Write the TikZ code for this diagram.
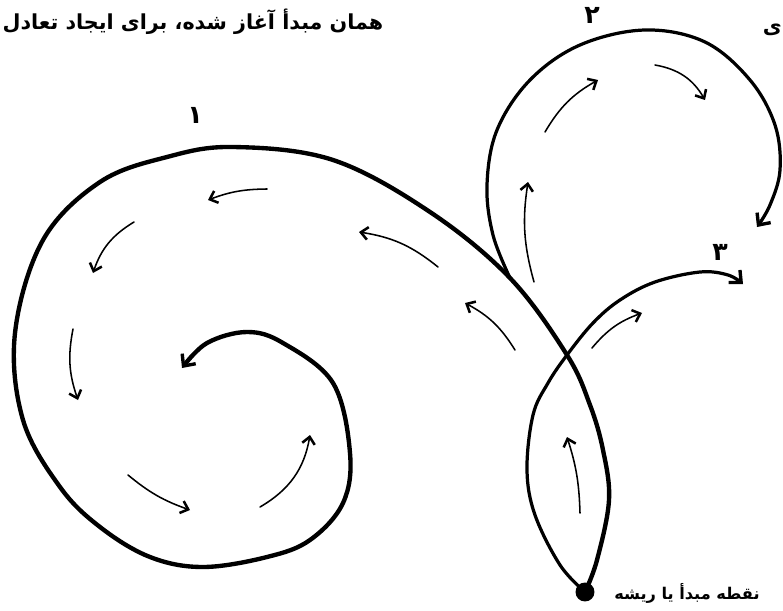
\documentclass[tikz,border=0pt]{standalone}
\usepackage{fontspec}
\newfontfamily\farsifont[Script=Arabic]{DejaVu Sans}
\TeXXeTstate=1
\usetikzlibrary{arrows.meta}

\begin{document}
\begin{tikzpicture}[x=0.025cm, y=-0.025cm,
    mainline/.style={line width=3.1pt, line cap=round},
    sideline/.style={line width=2.3pt, line cap=round},
    bigtip/.style={-{Straight Barb[length=6.5pt, width=12pt, line width=2.4pt]}},
    hint/.style={line width=1.1pt, line cap=round, -{Straight Barb[length=5pt, width=9pt, line width=1.8pt]}},
    fatext/.style={font=\farsifont\bfseries\fontsize{14.7}{17}\selectfont, inner sep=0pt},
    digit/.style={font=\farsifont\bfseries\fontsize{18}{20}\selectfont, inner sep=0pt}]
  \useasboundingbox (0,0) rectangle (783,611);

  % Root
  \node[circle, fill, inner sep=0pt, minimum size=13.5pt] (root) at (585,592) {};
  \coordinate (fork) at (510,278);

  % Curve 1 (spiral)
  \draw[mainline, bigtip] plot[smooth, tension=0.6] coordinates {(root) (597,560) (609,500) (603,450) (590,405) (567,355) (fork) (430,212) (333,160) (233,147) (167,157) (100,182) (43,240) (15,333) (23,420) (60,487) (100,527) (150,557) (203,567) (267,557) (310,540) (343,503) (350,453) (333,383) (283,343) (247,332) (207,343) (182,368)};

  % Curve 2 (loop)
  \draw[sideline, bigtip] plot[smooth, tension=0.6] coordinates {(fork) (493,235) (487,185) (497,130) (530,80) (580,45) (645,30) (705,42) (750,80) (775,125) (780,170) (770,205) (757,227)};

  % Curve 3
  \draw[sideline, bigtip] plot[smooth, tension=0.6] coordinates {(root) (560,565) (535,515) (527,470) (533,415) (548,383) (567,355) (593,323) (620,300) (655,282) (700,272) (728,275) (743,284)};

  % Small arrows
  \draw[hint] (267,189) to[bend right=10] (208,200);
  \draw[hint] (438,267) to[bend right=15] (359,232);
  \draw[hint] (134,222) to[bend right=20] (93,273);
  \draw[hint] (73,329) to[bend right=15] (78,400);
  \draw[hint] (128,475) to[bend right=10] (190,510);
  \draw[hint] (260,507) to[bend right=25] (310,435);
  \draw[hint] (515,350) to[bend right=15] (465,303);
  \draw[hint] (592,348) to[bend left=15] (642,313);
  \draw[hint] (580,513) to[bend right=8] (567,437);
  \draw[hint] (534,282) to[bend left=12] (528,182);
  \draw[hint] (545,132) to[bend left=15] (598,80);
  \draw[hint] (655,65) to[bend left=25] (705,100);

  % Labels
  \node[fatext] (title) at (193,22) {\beginR همان مبدأ آغاز شده، برای ایجاد تعادل\endR};
  \node[fatext, anchor=east] (cut) at (782,30) {\beginR ی\endR};
  \node[digit] (n1) at (195,115) {۱};
  \node[digit] (n2) at (592,15) {۲};
  \node[digit] (n3) at (720,252) {۳};
  \node[fatext, font=\farsifont\bfseries\fontsize{11.5}{14}\selectfont, anchor=west] (rootlabel) at (614,593) {\beginR نقطه مبدأ یا ریشه\endR};
\end{tikzpicture}
\end{document}
